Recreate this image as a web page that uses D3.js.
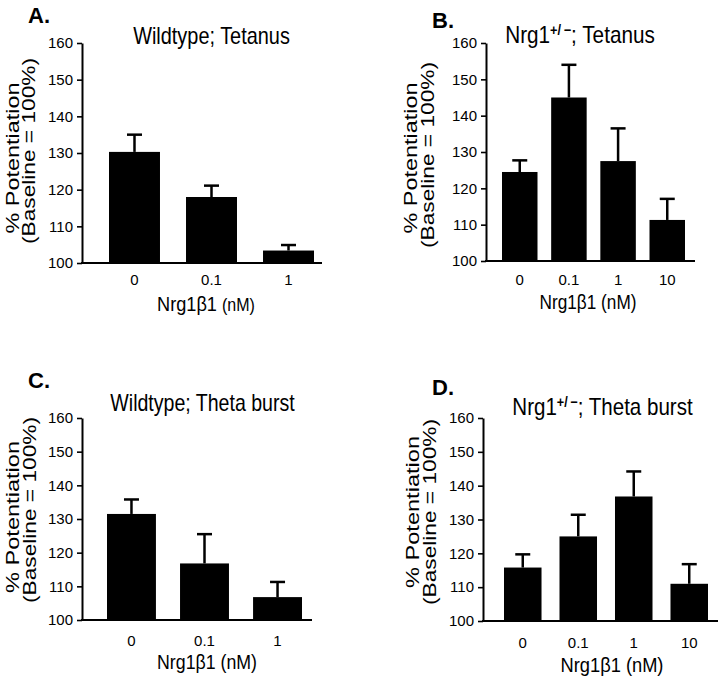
<!DOCTYPE html>
<html><head><meta charset="utf-8">
<script src="https://cdn.jsdelivr.net/npm/d3@7"></script>
<style>
body{margin:0;background:#fff}
svg{display:block}
text{font-family:"Liberation Sans",Arial,Helvetica,sans-serif;fill:#000}
</style>
</head><body>
<svg id="c" width="720" height="680"></svg>
<script>
// ---- data ----
const dosesWT = ["0", "0.1", "1"];
const dosesHet = ["0", "0.1", "1", "10"];
const tetanusWT = [130.3, 118.0, 103.4];
const tetanusWTErr = [4.7, 3.1, 1.5];
const tetanusHet = [124.5, 145.0, 127.5, 111.3];
const tetanusHetErr = [3.2, 9.0, 9.0, 5.8];
const thetaWT = [131.5, 116.8, 106.8];
const thetaWTErr = [4.3, 8.7, 4.5];
const thetaHet = [115.8, 125.0, 136.8, 111.0];
const thetaHetErr = [3.9, 6.4, 7.4, 5.8];
const yTicks = [100, 110, 120, 130, 140, 150, 160];
const yDomain = [100, 160];
const panelLetters = ["A.", "B.", "C.", "D."];
const genotypes = ["Wildtype", "Nrg1"];
const protocols = ["Tetanus", "Theta burst"];
const yLabel1 = "% Potentiation";
const yLabel2 = "(Baseline = 100%)";
const xLabelMain = "Nrg1β1";
const xLabelUnit = "(nM)";

const svg = d3.select("#c");

const panels = [
  {letter: panelLetters[0], geno: 0, prot: 0, doses: dosesWT, means: tetanusWT, errs: tetanusWTErr,
   ax: 82, xe: 322, yt: 43, yb: 263, bx: [109, 314], pad: 0.338,
   lt: [28, 23], title: [211.5, 44, 157], yl1: [19, 158, 151], yl2: [35, 151, 186],
   tickY: 285, xt: [206, 311, 98], unitSize: 15},
  {letter: panelLetters[1], geno: 1, prot: 0, doses: dosesHet, means: tetanusHet, errs: tetanusHetErr,
   ax: 486, xe: 695, yt: 43, yb: 261, bx: [502, 685], pad: 0.278,
   lt: [432, 28], title: [580, 43, 150], yl1: [417, 158, 151], yl2: [434, 155, 186],
   tickY: 285, xt: [588, 309, 97], unitSize: 17},
  {letter: panelLetters[2], geno: 0, prot: 1, doses: dosesWT, means: thetaWT, errs: thetaWTErr,
   ax: 82, xe: 312, yt: 418, yb: 620, bx: [107, 302], pad: 0.33,
   lt: [28, 388], title: [202.5, 411, 185], yl1: [19, 517, 152], yl2: [36, 510, 186],
   tickY: 646, xt: [207, 669, 100], unitSize: 17},
  {letter: panelLetters[3], geno: 1, prot: 1, doses: dosesHet, means: thetaHet, errs: thetaHetErr,
   ax: 483, xe: 718, yt: 418, yb: 621, bx: [504, 708], pad: 0.324,
   lt: [432, 395], title: [602.5, 415, 181], yl1: [419, 512, 152], yl2: [436, 512, 186],
   tickY: 648, xt: [612, 672, 103], unitSize: 17}
];

function fitH(sel, x, y, target, sy) {
  const w = sel.node().getBBox().width;
  sel.attr("transform", `translate(${x},${y}) scale(${target / w},${sy})`);
}
function fitV(sel, x, y, target) {
  const w = sel.node().getBBox().width;
  sel.attr("transform", `translate(${x},${y}) rotate(-90) scale(${target / w},1)`);
}

panels.forEach(p => {
  const g = svg.append("g");
  const y = d3.scaleLinear().domain(yDomain).range([p.yb, p.yt]);
  const x = d3.scaleBand().domain(p.doses).range(p.bx).paddingInner(p.pad).paddingOuter(0);
  const bw = x.bandwidth();

  // bars
  g.selectAll("rect.bar").data(p.means).join("rect")
    .attr("class", "bar")
    .attr("x", (d, i) => x(p.doses[i]))
    .attr("y", d => y(d))
    .attr("width", bw)
    .attr("height", d => y(yDomain[0]) - y(d))
    .attr("fill", "#000");

  // error bars (upper only)
  const eb = g.selectAll("g.err").data(p.means).join("g").attr("class", "err");
  eb.append("line")
    .attr("x1", (d, i) => x(p.doses[i]) + bw / 2)
    .attr("x2", (d, i) => x(p.doses[i]) + bw / 2)
    .attr("y1", d => y(d))
    .attr("y2", (d, i) => y(d + p.errs[i]))
    .attr("stroke", "#000").attr("stroke-width", 2.5);
  eb.append("line")
    .attr("x1", (d, i) => x(p.doses[i]) + bw / 2 - 7.5)
    .attr("x2", (d, i) => x(p.doses[i]) + bw / 2 + 7.5)
    .attr("y1", (d, i) => y(d + p.errs[i]))
    .attr("y2", (d, i) => y(d + p.errs[i]))
    .attr("stroke", "#000").attr("stroke-width", 2.5);

  // y axis
  const ya = g.append("g").attr("transform", `translate(${p.ax},0)`)
    .call(d3.axisLeft(y).tickValues(yTicks).tickSize(5).tickSizeOuter(0).tickPadding(4));
  ya.select(".domain").attr("stroke", "#000").attr("stroke-width", 2);
  ya.selectAll(".tick line").attr("stroke", "#000").attr("stroke-width", 1.6);
  ya.selectAll(".tick text").attr("font-size", 15)
    .attr("font-family", '"Liberation Sans",Arial,sans-serif').attr("fill", "#000");

  // x axis line
  g.append("line")
    .attr("x1", p.ax - 1).attr("x2", p.xe)
    .attr("y1", y(yDomain[0])).attr("y2", y(yDomain[0]))
    .attr("stroke", "#000").attr("stroke-width", 2);

  // x tick labels through a bottom axis
  const xa = g.append("g").attr("transform", `translate(0,${p.tickY})`)
    .call(d3.axisBottom(x).tickSize(0).tickPadding(0));
  xa.select(".domain").remove();
  xa.selectAll(".tick text").attr("dy", 0).attr("font-size", 15)
    .attr("font-family", '"Liberation Sans",Arial,sans-serif').attr("fill", "#000");

  // panel letter
  g.append("text").attr("x", p.lt[0]).attr("y", p.lt[1])
    .attr("font-size", 22).attr("font-weight", 900).text(p.letter);

  // title
  const t = g.append("text").attr("text-anchor", "middle").attr("font-size", 19.5);
  if (p.geno === 0) {
    t.text(genotypes[0] + "; " + protocols[p.prot]);
  } else {
    t.append("tspan").text(genotypes[1]);
    t.append("tspan").attr("font-size", 12).attr("font-weight", "bold").attr("dy", -7).text("+/\u2009\u2212");
    t.append("tspan").attr("dy", 7).text("; " + protocols[p.prot]);
  }
  fitH(t, p.title[0], p.title[1], p.title[2], 1.2);

  // y label
  const l1 = g.append("text").attr("text-anchor", "middle").attr("font-size", 18).text(yLabel1);
  fitV(l1, p.yl1[0], p.yl1[1], p.yl1[2]);
  const l2 = g.append("text").attr("text-anchor", "middle").attr("font-size", 17.5).text(yLabel2);
  fitV(l2, p.yl2[0], p.yl2[1], p.yl2[2]);

  // x title
  const xt = g.append("text").attr("text-anchor", "middle").attr("font-size", 17);
  xt.append("tspan").text(xLabelMain + "\u00a0");
  xt.append("tspan").attr("font-size", p.unitSize).text(xLabelUnit);
  fitH(xt, p.xt[0], p.xt[1], p.xt[2], 1.2);
});
</script>
</body></html>
